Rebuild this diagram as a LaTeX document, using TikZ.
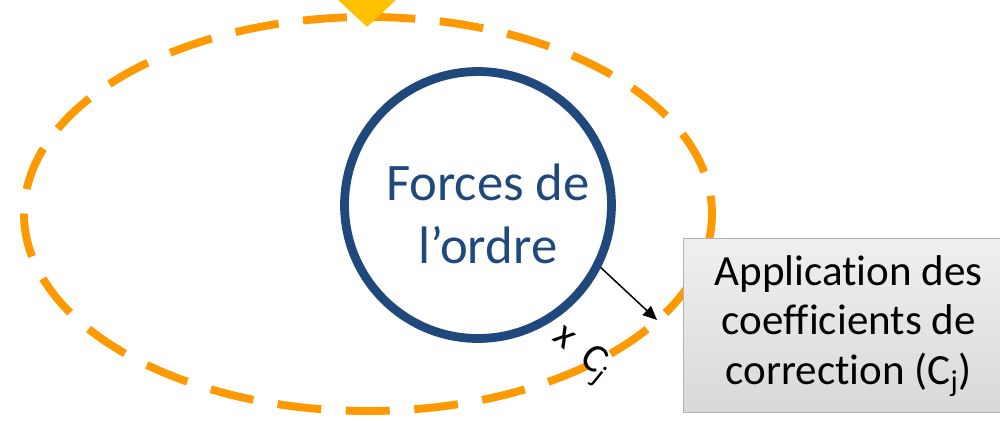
\documentclass[tikz,border=0pt]{standalone}
\usepackage{fontspec}
\setmainfont{Carlito}[Ligatures=NoCommon]
\usepackage{tikz}
\usetikzlibrary{positioning,calc,arrows.meta,shapes.geometric}

\begin{document}
\begin{tikzpicture}[x=0.02cm,y=-0.02cm]
	\definecolor{ringblue}{RGB}{31,73,125}
	\definecolor{dashorange}{RGB}{255,153,0}
	\definecolor{markyellow}{RGB}{255,192,0}
	\tikzset{
		circ/.style={
			circle,
			draw=ringblue,
			line width=5pt,
			minimum size=5.34cm,
			inner sep=0pt
		},
		circtxt/.style={
			align=center,
			text=ringblue,
			inner sep=0pt,
			font=\fontsize{30pt}{36pt}\selectfont
		},
		setbd/.style={
			draw=dashorange,
			line width=4.5pt,
			dash pattern=on 25pt off 14pt
		},
		marker/.style={
			diamond,
			fill=markyellow,
			minimum width=1.16cm,
			minimum height=1.08cm,
			inner sep=0pt
		},
		corrbox/.style={
			rectangle,
			draw=gray!60,
			line width=0.8pt,
			top color=gray!12,
			middle color=gray!4,
			bottom color=gray!30,
			minimum width=6.6cm,
			minimum height=3.48cm,
			align=center,
			font=\fontsize{24.5pt}{28.3pt}\selectfont
		},
		arr/.style={
			-{Triangle[length=8pt,width=7pt]},
			line width=0.85pt
		}
	}
	\useasboundingbox (0,0) rectangle (1000,420);

	% ======= Ellipse pointillee =======
	\draw[setbd] (368,214) ellipse [x radius=344, y radius=197];
	\node[marker] (apex) at (367,0) {};

	% ======= Cercle central =======
	\node[circ] (forces) at (478,205) {};
	\node[circtxt] (forceslbl) at (488,214) {Forces de\\l’ordre};

	% ======= Coefficients =======
	\node[corrbox, anchor=north west] (coef) at (683,238)
		{Application des\\coefficients de\\correction (C\textsubscript{j})};

	\coordinate (tipend) at (657,320);
	\draw[arr] (forces.-27) -- (tipend);
	\node[rotate=-39, font=\fontsize{23pt}{26pt}\selectfont] (factor) at (581,354) {x\ \ C\textsubscript{j}};
\end{tikzpicture}
\end{document}
